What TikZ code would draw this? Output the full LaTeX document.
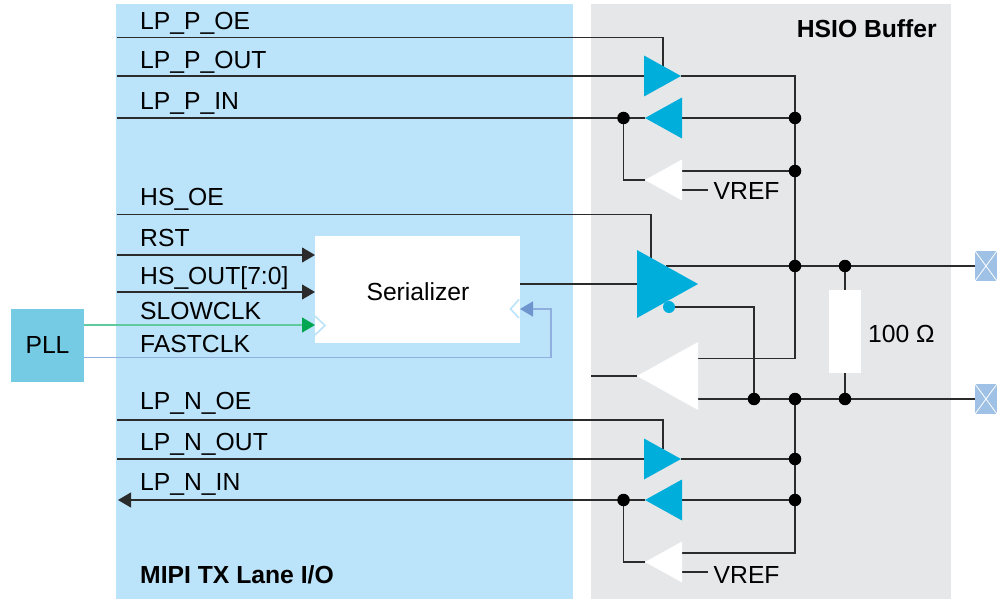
\documentclass[tikz,border=0pt]{standalone}
\usepackage{fontspec}
\setmainfont{Liberation Sans}
\usetikzlibrary{arrows.meta,shapes.geometric}
\definecolor{laneblue}{HTML}{BBE3FA}
\definecolor{buffergray}{HTML}{E6E7E9}
\definecolor{bufcyan}{HTML}{00AEDB}
\definecolor{pllblue}{HTML}{74CBE3}
\definecolor{padblue}{HTML}{9FC1E6}
\definecolor{wirecol}{HTML}{2B2B2B}
\definecolor{slowline}{HTML}{5FC9A0}
\definecolor{slowtip}{HTML}{00A651}
\definecolor{fastline}{HTML}{8FB0DE}
\definecolor{fasttip}{HTML}{6F95CE}
\pgfdeclarelayer{front}
\pgfsetlayers{main,front}
\tikzset{
  panel/.style={inner sep=0pt, outer sep=0pt, anchor=north west},
  sig/.style={font=\fontsize{24.7}{29}\selectfont, inner sep=0pt, anchor=base west},
  title/.style={sig, font=\fontsize{24.7}{29}\selectfont\bfseries},
  tri/.style={isosceles triangle, isosceles triangle stretches, inner sep=0pt, outer sep=0pt, anchor=apex},
  lpbuf/.style={tri, fill=bufcyan, minimum width=41pt, minimum height=37pt},
  lprx/.style={tri, fill=white, minimum width=41pt, minimum height=37pt},
  hsbuf/.style={tri, fill=bufcyan, minimum width=68pt, minimum height=61pt},
  hsrx/.style={tri, fill=white, minimum width=68pt, minimum height=61pt},
  dot/.style={circle, fill=black, inner sep=0pt, minimum size=12.5pt},
  wire/.style={draw=wirecol, line width=1.1pt},
  into/.style={wire, -{Triangle[length=13pt,width=15pt]}},
  clkgreen/.style={draw=slowline, line width=1.3pt, -{Triangle[length=13pt,width=15pt,color=slowtip]}},
  clkblue/.style={draw=fastline, line width=1.3pt, -{Triangle[length=13pt,width=15pt,color=fasttip]}},
  chevron/.style={draw=laneblue, line width=1.6pt},
  pad/.style={fill=padblue, minimum width=22pt, minimum height=30pt, inner sep=0pt, outer sep=0pt,
    path picture={\draw[white, line width=0.8pt] (path picture bounding box.north west) -- (path picture bounding box.south east)
      (path picture bounding box.south west) -- (path picture bounding box.north east);}},
}
\begin{document}
\begin{tikzpicture}[x=1pt,y=-1pt]
  \useasboundingbox (0,0) rectangle (997,599);
  \node[panel, fill=laneblue, minimum width=457pt, minimum height=595pt] (lane) at (116,4) {};
  \node[panel, fill=buffergray, minimum width=360pt, minimum height=595pt] (hsio) at (591,4) {};
  \node[title] (lanetitle) at (140,583) {MIPI TX Lane I/O};
  \node[title, anchor=base east] (hsiotitle) at (937,38) {HSIO Buffer};

  \node[fill=pllblue, minimum size=73pt, inner sep=0pt, outer sep=0pt, font=\fontsize{24.7}{29}\selectfont] (pll) at (47.5,345.5) {PLL};
  \node[fill=white, minimum width=205pt, minimum height=107pt, inner sep=0pt, outer sep=0pt] (ser) at (417.5,289.5) {};
  \node[sig, anchor=base] (serlab) at (418,300) {Serializer};
  \node[fill=white, minimum width=32pt, minimum height=83pt, inner sep=0pt, outer sep=0pt] (res) at (845,331.5) {};
  \node[pad] (padp) at (986,266) {};
  \node[pad] (padn) at (986,399) {};

  \begin{pgfonlayer}{front}
  % buffers
  \node[lpbuf] (txp) at (681,76) {};
  \node[lpbuf, shape border rotate=180] (rxp) at (645,118) {};
  \node[lprx, shape border rotate=180] (cmpp) at (645,180) {};
  \node[hsbuf] (hstx) at (698,284) {};
  \node[hsrx, shape border rotate=180] (hsrx) at (637,376) {};
  \node[lpbuf] (txn) at (681,459) {};
  \node[lpbuf, shape border rotate=180] (rxn) at (645,500) {};
  \node[lprx, shape border rotate=180] (cmpn) at (645,562) {};
  \node[circle, fill=bufcyan, inner sep=0pt, minimum size=12pt] (inv) at (669,307) {};

  % junctions
  \node[dot] (jrxp) at (623.5,118) {};
  \node[dot] (jbusa) at (795,118) {};
  \node[dot] (jbusb) at (795,171) {};
  \node[dot] (jbusc) at (795,266) {};
  \node[dot] (jresp) at (845,266) {};
  \node[dot] (jinv) at (754,399) {};
  \node[dot] (jbusd) at (795,399) {};
  \node[dot] (jresn) at (845,399) {};
  \node[dot] (jbuse) at (795,459) {};
  \node[dot] (jbusf) at (795,500) {};
  \node[dot] (jrxn) at (623.5,500) {};
  \end{pgfonlayer}

  % free ends
  \coordinate (poe) at (117,37.5);
  \coordinate (poeend) at (663,67);
  \coordinate (pout) at (117,76);
  \coordinate (pin) at (117,118);
  \coordinate (hsoe) at (117,214.5);
  \coordinate (hsoeend) at (651,258);
  \coordinate (rstin) at (117,255);
  \coordinate (hsoutin) at (117,292);
  \coordinate (noe) at (117,420);
  \coordinate (noeend) at (663,449);
  \coordinate (nout) at (117,459);
  \coordinate (nin) at (118,500);
  \coordinate (hsrxin) at (591,376);
  \coordinate (vrefp) at (708,190);
  \coordinate (vrefn) at (708,572);
  \coordinate (cornerp) at (795,76);
  \coordinate (cornerh) at (795,358.5);
  \coordinate (cornern) at (795,553);
  \coordinate (fastturn) at (551,357.5);
  \coordinate (hsout) at (666,266);

  % low power, P side
  \draw[wire] (poe) -| (poeend);
  \draw[wire] (pout) -- (txp);
  \draw[wire] (txp) -- (cornerp) -- (cornerh) -- (hsrx.lower side |- cornerh);
  \draw[wire] (pin) -- (rxp);
  \draw[wire] (rxp) -- (jbusa);
  \draw[wire] (jrxp) |- (cmpp.apex);
  \draw[wire] (cmpp.lower side |- jbusb) -- (jbusb);
  \draw[wire] (cmpp.lower side |- vrefp) -- (vrefp);

  % high speed
  \draw[wire] (hsoe) -| (hsoeend);
  \draw[into] (rstin) -- (rstin -| ser.west);
  \draw[into] (hsoutin) -- (hsoutin -| ser.west);
  \draw[wire] (ser.east |- hstx.apex) -- (hstx.lower side);
  \draw[wire] (hsout) -- (jbusc) -- (jresp) -- (padp);
  \draw[wire] (inv) -| (jinv);
  \draw[wire] (hsrxin) -- (hsrx.apex);
  \draw[wire] (hsrx.lower side |- jinv) -- (jinv) -- (jbusd) -- (jresn) -- (padn);
  \draw[wire] (jresp) -- (res);
  \draw[wire] (res) -- (jresn);

  % clocks
  \draw[clkgreen] (pll.east |- 0,325) -- (ser.west |- 0,325);
  \draw[clkblue] (pll.east |- fastturn) -- (fastturn) |- (ser.east |- 0,309);
  \draw[chevron] (315,316) -- (325,325.5) -- (315,335);
  \draw[chevron] (519,299.5) -- (510.5,309) -- (519,318);

  % low power, N side
  \draw[wire] (noe) -| (noeend);
  \draw[wire] (nout) -- (txn);
  \draw[wire] (txn) -- (jbuse);
  \draw[wire] (jbusd) -- (cornern) -- (cornern -| cmpn.lower side);
  \draw[into] (rxn) -- (nin);
  \draw[wire] (rxn) -- (jbusf);
  \draw[wire] (jrxn) |- (cmpn.apex);
  \draw[wire] (vrefn -| cmpn.lower side) -- (vrefn);

  % labels
  \node[sig] (lppoe) at (140,30) {LP\_P\_OE};
  \node[sig] (lppout) at (140,69) {LP\_P\_OUT};
  \node[sig] (lppin) at (140,110) {LP\_P\_IN};
  \node[sig] (hsoelab) at (140,206) {HS\_OE};
  \node[sig] (rstlab) at (140,247) {RST};
  \node[sig] (hsoutlab) at (140,284) {HS\_OUT[7:0]};
  \node[sig] (slowlab) at (140,319) {SLOWCLK};
  \node[sig] (fastlab) at (140,352) {FASTCLK};
  \node[sig] (lpnoe) at (140,409) {LP\_N\_OE};
  \node[sig] (lpnout) at (140,450) {LP\_N\_OUT};
  \node[sig] (lpnin) at (140,490) {LP\_N\_IN};
  \node[sig] (vreflabp) at (713.5,200) {VREF};
  \node[sig] (vreflabn) at (713.5,583) {VREF};
  \node[sig] (reslab) at (868,342) {100 Ω};
\end{tikzpicture}
\end{document}
